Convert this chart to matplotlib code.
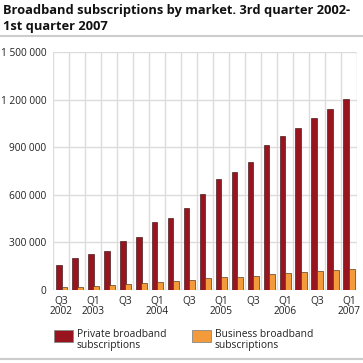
import matplotlib
matplotlib.use("Agg")
import matplotlib.pyplot as plt
import numpy as np
from matplotlib.patches import Rectangle
from matplotlib.lines import Line2D

plt.rcParams["font.family"] = ["Open Sans", "DejaVu Sans"]

quarters = ["Q3 2002", "Q4 2002", "Q1 2003", "Q2 2003", "Q3 2003", "Q4 2003",
            "Q1 2004", "Q2 2004", "Q3 2004", "Q4 2004", "Q1 2005", "Q2 2005",
            "Q3 2005", "Q4 2005", "Q1 2006", "Q2 2006", "Q3 2006", "Q4 2006",
            "Q1 2007"]
private = [156000, 201000, 226000, 245000, 309000, 334000, 429000, 455000,
           518000, 607000, 698000, 746000, 810000, 913000, 970000, 1025000,
           1083000, 1144000, 1205000]
business = [19000, 20000, 25000, 32000, 38000, 43000, 51000, 57000,
            63000, 74000, 80000, 84000, 89000, 99000, 106000, 116000,
            120000, 127000, 133000]
xtick_labels = ["Q3\n2002", "", "Q1\n2003", "", "Q3", "", "Q1\n2004", "",
                "Q3", "", "Q1\n2005", "", "Q3", "", "Q1\n2006", "", "Q3", "",
                "Q1\n2007"]
yticks = [0, 300000, 600000, 900000, 1200000, 1500000]

red = "#981520"
orange = "#f39a3b"
grid = "#dcdcdc"

fig = plt.figure(figsize=(3.63, 3.63), dpi=100)
ax = fig.add_axes([0.147, 0.201, 0.836, 0.655])

x = np.arange(len(quarters))
w = 0.36
ax.bar(x - 0.16, private, width=w, color=red, edgecolor="#4a2020", linewidth=0.5, zorder=3)
ax.bar(x + 0.19, business, width=w, color=orange, edgecolor="#5a3a20", linewidth=0.5, zorder=3)

ax.set_xlim(-0.5, len(quarters) - 0.5)
ax.set_ylim(0, 1500000)
ax.set_yticks(yticks)
ax.set_yticklabels([f"{v:,}".replace(",", " ") for v in yticks])
ax.set_xticks(x)
ax.set_xticklabels(xtick_labels, linespacing=0.95)
ax.tick_params(axis="both", length=0, labelsize=7.3, colors="#222222")
ax.tick_params(axis="y", pad=5)
ax.tick_params(axis="x", pad=4)

for yv in yticks:
    ax.axhline(yv, color=grid, linewidth=1, zorder=1)
for xv in np.arange(-0.5, len(quarters), 1.0):
    ax.axvline(xv, color=grid, linewidth=1, zorder=1)
for s in ax.spines.values():
    s.set_visible(False)

fig.text(0.008, 0.989, "Broadband subscriptions by market. 3rd quarter 2002-\n1st quarter 2007",
         fontsize=9.3, fontweight="bold", va="top", ha="left", linespacing=1.32, color="#111111")
fig.add_artist(Line2D([0, 1], [0.900, 0.900], color="#cccccc", linewidth=1.5))
fig.add_artist(Line2D([0, 1], [0.011, 0.011], color="#cccccc", linewidth=1.5))

# legend
fig.add_artist(Rectangle((54 / 363, 1 - 342 / 363), 19 / 363, 12 / 363,
                         facecolor=red, edgecolor="#888888", linewidth=0.6))
fig.text(77 / 363, 1 - 329 / 363, "Private broadband\nsubscriptions", fontsize=7.4,
         va="top", ha="left", linespacing=1.0, color="#222222")
fig.add_artist(Rectangle((192 / 363, 1 - 342 / 363), 19 / 363, 12 / 363,
                         facecolor=orange, edgecolor="#888888", linewidth=0.6))
fig.text(215 / 363, 1 - 329 / 363, "Business broadband\nsubscriptions", fontsize=7.4,
         va="top", ha="left", linespacing=1.0, color="#222222")

fig.savefig("out.png", dpi=100)
